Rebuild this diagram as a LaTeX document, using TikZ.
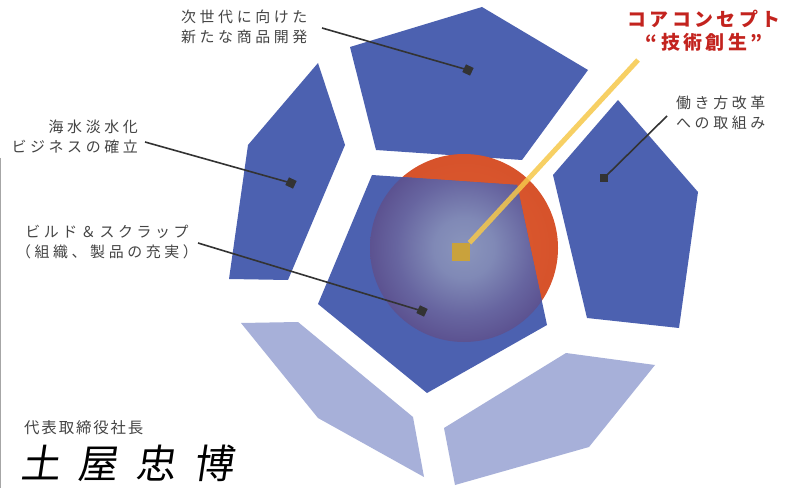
\documentclass[tikz,border=0pt]{standalone}
\usepackage{fontspec}
\newfontfamily\jp[LetterSpace=24]{Noto Sans CJK JP}
\newfontfamily\jpcore[LetterSpace=18]{Noto Sans CJK JP}
\newfontfamily\jptitle[LetterSpace=12]{Noto Sans CJK JP}
\newfontfamily\jpsign[LetterSpace=45,FakeSlant=0.15]{Noto Sans CJK JP}

\definecolor{faceblue}{HTML}{4C61B0}
\definecolor{facepale}{HTML}{A7B0D9}
\definecolor{corered}{HTML}{C3231E}
\definecolor{leadgray}{HTML}{333333}
\definecolor{textgray}{HTML}{444444}
\definecolor{beam}{HTML}{F6C84A}
\definecolor{beamdark}{HTML}{C9A23C}
\definecolor{glowA}{HTML}{8A95BC}
\definecolor{glowB}{HTML}{8089B6}
\definecolor{glowC}{HTML}{6765A0}
\definecolor{glowD}{HTML}{574A8A}
\definecolor{glowE}{HTML}{6A5596}
\definecolor{glowF}{HTML}{765E98}
\definecolor{emberA}{HTML}{DE5E30}
\definecolor{emberB}{HTML}{D5502A}
\definecolor{emberC}{HTML}{C24024}
\definecolor{emberD}{HTML}{9A2C18}

% glow of the core, seen through the centre face
\pgfdeclareradialshading{coreglow}{\pgfpoint{0bp}{0bp}}{color(0bp)=(glowA); color(8bp)=(glowB); color(18bp)=(glowC); color(28bp)=(glowD); color(42bp)=(glowE); color(50bp)=(glowF)}
% the red core itself
\pgfdeclareradialshading{emberglow}{\pgfpoint{0bp}{0bp}}{color(0bp)=(emberA); color(30bp)=(emberB); color(45bp)=(emberC); color(50bp)=(emberD)}

\tikzset{
    face/.style={fill=faceblue},
    paleface/.style={fill=facepale},
    leader/.style={draw=leadgray, line width=1.6bp},
    tag/.style={fill=leadgray, minimum size=8.5bp, inner sep=0pt},
    note/.style={text=textgray, inner sep=0pt, font=\jp\fontsize{15}{20}\selectfont},
    corenote/.style={text=corered, inner sep=0pt, font=\jpcore\bfseries\fontsize{19}{23.5}\selectfont},
}

\begin{document}
\begin{tikzpicture}[x=1bp, y=-1bp]
    \useasboundingbox (0, 0) rectangle (800, 488);
    \fill [white] (0, 0) rectangle (800, 488);
    \draw [gray!70, line width=1.5bp] (0.75, 158) -- (0.75, 488);

    % outer faces
    \fill [face] (350, 47) -- (482, 7) -- (588, 70) -- (522, 160) -- (376, 150) -- cycle;
    \fill [face] (318, 63) -- (345, 145) -- (288, 280) -- (229, 279) -- (248, 145) -- cycle;
    \fill [face] (618, 100) -- (698, 192) -- (679, 328) -- (587, 318) -- (553, 175) -- cycle;
    \fill [paleface] (241, 323) -- (298, 322) -- (413, 417) -- (424, 477) -- (318, 418) -- cycle;
    \fill [paleface] (566, 353) -- (655, 365) -- (589, 447) -- (455, 485) -- (444, 428) -- cycle;

    % core and centre face
    \coordinate (core) at (464, 248);
    \shade [shading=emberglow] (core) circle [radius=94bp];
    \fill [face] (372, 175) -- (517, 185) -- (547, 325) -- (427, 393) -- (318, 304) -- cycle;
    \begin{scope}
        \clip (372, 175) -- (517, 185) -- (547, 325) -- (427, 393) -- (318, 304) -- cycle;
        \shade [shading=coreglow] (core) circle [radius=94bp];
    \end{scope}

    % beam to the core concept
    \coordinate (beamend) at (638, 60);
    \node [fill=beamdark, minimum size=18bp, inner sep=0pt] (seed) at (461, 252) {};
    \draw [beam, opacity=0.85, line width=5bp] (seed) -- (beamend);

    % leaders
    \coordinate (ldnew) at (322, 28);
    \coordinate (ldwork) at (667, 116);
    \coordinate (lddesal) at (145, 142);
    \coordinate (ldscrap) at (198, 243);
    \node [tag, rotate=-25] (sqnew) at (468, 70) {};
    \node [tag] (sqwork) at (604, 178) {};
    \node [tag, rotate=-25] (sqdesal) at (291, 183) {};
    \node [tag, rotate=-25] (sqscrap) at (422, 311) {};
    \draw [leader] (ldnew) -- (sqnew.center);
    \draw [leader] (ldwork) -- (sqwork.center);
    \draw [leader] (lddesal) -- (sqdesal.center);
    \draw [leader] (ldscrap) -- (sqscrap.center);

    % labels
    \node [corenote, align=center] (concept) at (704, 31) {コアコンセプト\\“技術創生”};
    \node [note, align=left, anchor=west] (newgoods) at (181, 27) {次世代に向けた\\新たな商品開発};
    \node [note, align=left, anchor=west] (workstyle) at (676, 113) {働き方改革\\への取組み};
    \node [note, align=right, anchor=east] (desal) at (138, 137) {海水淡水化\\ビジネスの確立};
    \node [note, align=center] (scrap) at (107, 242) {ビルド＆スクラップ\\（組織、製品の充実）};

    % signature
    \node [text=textgray, inner sep=0pt, anchor=west, font=\jptitle\fontsize{15.5}{18}\selectfont] (post) at (24, 428) {代表取締役社長};
    \node [text=black, inner sep=0pt, anchor=west, font=\jpsign\fontsize{40}{44}\selectfont] (sign) at (20, 463) {土屋忠博};
\end{tikzpicture}
\end{document}
